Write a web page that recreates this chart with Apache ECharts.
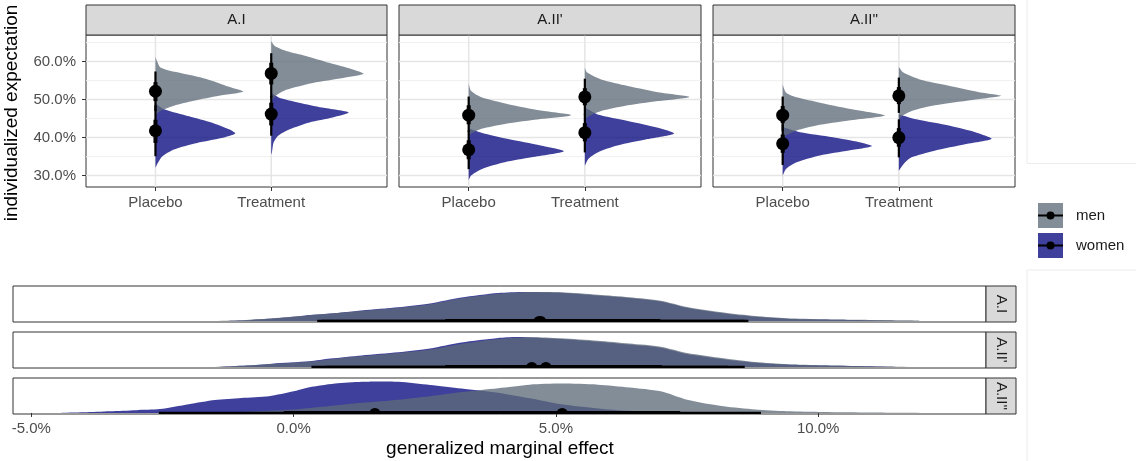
<!DOCTYPE html>
<html>
<head>
<meta charset="utf-8">
<script src="https://cdn.jsdelivr.net/npm/echarts@6.0.0/dist/echarts.min.js"></script>
<style>
  html, body { margin: 0; padding: 0; background: #fff; }
  #chart { width: 1136px; height: 461px; }
</style>
</head>
<body>
<div id="chart"></div>
<script>
const panels = ["A.I", "A.II'", "A.II''"]
const conditions = ['Placebo', 'Treatment']
const groups = ['men', 'women']
const yTicks = [30, 40, 50, 60]
const yMinor = [35, 45, 55, 65]
const effectTicks = [-5, 0, 5, 10]

// half-violin outlines of the top row: [expectation %, width in category units]
const aiPlaceboMen = [[61.3, 0], [60.0, 0.015], [58.5, 0.04], [57.8, 0.1], [57.1, 0.2], [55.4, 0.44], [53.6, 0.61], [52.1, 0.76], [51.0, 0.55], [49.7, 0.33], [48.4, 0.16], [47.0, 0.04], [46.1, 0.01], [45.3, 0]]
const aiPlaceboWomen = [[49.6, 0], [48.5, 0.02], [47.4, 0.08], [45.6, 0.29], [43.9, 0.49], [42.1, 0.64], [41.1, 0.69], [39.9, 0.57], [38.6, 0.36], [36.9, 0.16], [35.1, 0.06], [33.3, 0.02], [32.0, 0]]
const aiTreatmentMen = [[65.4, 0], [64.1, 0.03], [62.8, 0.13], [61.5, 0.3], [59.7, 0.5], [58.0, 0.7], [56.8, 0.8], [55.7, 0.62], [54.4, 0.36], [52.6, 0.13], [51.3, 0.05], [50.0, 0.01], [49.1, 0]]
const aiTreatmentWomen = [[51.8, 0], [50.5, 0.07], [49.2, 0.24], [47.9, 0.44], [46.6, 0.67], [45.3, 0.53], [44.0, 0.33], [42.2, 0.16], [40.5, 0.06], [38.7, 0.02], [36.1, 0.006], [35.6, 0]]
const a2pPlaceboMen = [[54.3, 0], [52.3, 0.02], [50.6, 0.11], [48.8, 0.34], [47.1, 0.62], [45.9, 0.88], [44.9, 0.62], [43.6, 0.31], [42.3, 0.11], [41.0, 0.02], [40.1, 0]]
const a2pPlaceboWomen = [[42.3, 0], [41.0, 0.14], [39.6, 0.34], [37.9, 0.62], [36.4, 0.82], [34.8, 0.54], [33.5, 0.31], [31.7, 0.11], [30.0, 0.02], [28.7, 0]]
const a2pTreatmentMen = [[58.4, 0], [57.1, 0.02], [55.3, 0.14], [53.6, 0.37], [51.8, 0.66], [50.7, 0.9], [49.6, 0.63], [48.3, 0.34], [47.0, 0.14], [45.7, 0.04], [44.8, 0]]
const a2pTreatmentWomen = [[47.9, 0], [46.1, 0.11], [44.4, 0.37], [42.6, 0.63], [41.1, 0.77], [39.6, 0.54], [37.9, 0.28], [36.1, 0.11], [34.4, 0.03], [32.6, 0]]
const a2ppPlaceboMen = [[54.0, 0], [51.8, 0.03], [50.6, 0.12], [48.8, 0.38], [47.1, 0.66], [45.8, 0.88], [44.5, 0.57], [43.2, 0.29], [41.9, 0.12], [40.6, 0.03], [39.7, 0]]
const a2ppPlaceboWomen = [[42.7, 0], [41.4, 0.15], [40.1, 0.43], [38.8, 0.66], [37.8, 0.77], [36.6, 0.57], [35.3, 0.32], [33.5, 0.12], [31.8, 0.03], [30.0, 0]]
const a2ppTreatmentMen = [[58.6, 0], [57.1, 0.04], [55.3, 0.18], [53.6, 0.44], [51.8, 0.72], [51.0, 0.88], [49.9, 0.63], [48.5, 0.31], [47.0, 0.11], [45.7, 0.03], [44.4, 0]]
const a2ppTreatmentWomen = [[46.1, 0], [44.8, 0.15], [43.1, 0.44], [41.3, 0.67], [39.7, 0.8], [38.3, 0.58], [36.5, 0.3], [34.8, 0.11], [33.0, 0.04], [31.3, 0]]

// point + intervals of the top row, per panel: [placebo, treatment]
const medMen = [[52.2, 56.9], [45.9, 50.7], [45.9, 51.0]]
const medWomen = [[41.8, 46.2], [36.8, 41.3], [38.4, 40.0]]
const ci95Men = [[[47.0, 57.4], [50.5, 62.2]], [[41.5, 50.8], [46.0, 55.5]], [[41.8, 50.8], [46.5, 55.8]]]
const ci95Women = [[[35.1, 48.5], [40.5, 51.0]], [[31.7, 41.8], [36.1, 46.2]], [[32.8, 43.5], [34.8, 44.8]]]
const ci66Men = [[[49.6, 54.6], [54.0, 59.7]], [[43.5, 48.5], [48.5, 53.0]], [[43.8, 48.3], [48.8, 53.3]]]
const ci66Women = [[[38.6, 44.7], [43.2, 49.2]], [[34.3, 39.3], [39.0, 43.8]], [[36.0, 40.8], [37.6, 42.5]]]

// densities of the marginal effect: [effect %, relative height]
const aiEffectMen = [[-1.5, 0], [-0.9, 0.03], [-0.4, 0.075], [0.2, 0.15], [0.7, 0.21], [1.3, 0.29], [2.0, 0.38], [2.6, 0.48], [3.2, 0.65], [3.9, 0.78], [4.5, 0.83], [5.1, 0.82], [5.8, 0.75], [6.4, 0.68], [7.0, 0.58], [7.5, 0.40], [8.2, 0.24], [8.8, 0.14], [9.4, 0.08], [10.1, 0.05], [10.7, 0.035], [11.9, 0.015], [11.95, 0]]
const aiEffectWomen = [[-1.3, 0], [-0.8, 0.03], [-0.4, 0.07], [0.2, 0.15], [0.7, 0.21], [1.3, 0.3], [2.0, 0.39], [2.6, 0.5], [3.2, 0.67], [3.9, 0.8], [4.4, 0.83], [5.1, 0.81], [5.8, 0.73], [6.4, 0.66], [7.0, 0.56], [7.5, 0.38], [8.2, 0.22], [8.8, 0.12], [9.4, 0.065], [10.1, 0.04], [10.7, 0.025], [11.5, 0]]
const a2pEffectMen = [[-1.5, 0], [-0.9, 0.04], [-0.4, 0.09], [0.3, 0.15], [0.7, 0.22], [1.3, 0.31], [2.0, 0.40], [2.6, 0.50], [3.2, 0.66], [3.9, 0.80], [4.5, 0.85], [5.1, 0.82], [5.8, 0.75], [6.4, 0.67], [7.0, 0.58], [7.5, 0.40], [8.2, 0.25], [8.8, 0.14], [9.4, 0.08], [10.1, 0.05], [10.7, 0.03], [11.9, 0]]
const a2pEffectWomen = [[-1.4, 0], [-0.9, 0.04], [-0.4, 0.095], [0.3, 0.16], [0.7, 0.24], [1.3, 0.33], [2.0, 0.42], [2.6, 0.53], [3.2, 0.70], [3.9, 0.83], [4.25, 0.86], [5.1, 0.80], [5.8, 0.72], [6.4, 0.64], [7.0, 0.55], [7.5, 0.37], [8.2, 0.22], [8.8, 0.12], [9.4, 0.07], [10.1, 0.04], [10.7, 0.025], [11.5, 0]]
const a2ppEffectMen = [[-1.8, 0], [-1.0, 0.03], [0.0, 0.1], [0.7, 0.2], [1.3, 0.29], [2.0, 0.38], [2.6, 0.48], [3.2, 0.6], [3.9, 0.71], [4.5, 0.81], [5.1, 0.84], [5.8, 0.81], [6.4, 0.73], [7.0, 0.62], [7.5, 0.38], [8.2, 0.19], [8.8, 0.1], [9.4, 0.05], [10.1, 0.03], [11.0, 0.015], [12.35, 0]]
const a2ppEffectWomen = [[-4.5, 0], [-4.0, 0.02], [-3.5, 0.05], [-3.0, 0.08], [-2.55, 0.11], [-2.0, 0.25], [-1.5, 0.37], [-1.0, 0.43], [-0.47, 0.48], [0.0, 0.62], [0.22, 0.71], [0.79, 0.84], [1.3, 0.89], [1.65, 0.9], [2.0, 0.89], [2.6, 0.8], [3.2, 0.7], [3.9, 0.58], [4.5, 0.42], [5.1, 0.25], [5.8, 0.13], [6.4, 0.06], [7.0, 0.025], [7.6, 0]]

// point + intervals of the bottom rows
const medEffectMen = [4.71, 4.81, 5.12]
const medEffectWomen = [4.68, 4.54, 1.55]
const ci95EffectMen = [[0.53, 8.67], [0.6, 8.6], [1.3, 8.91]]
const ci95EffectWomen = [[0.45, 8.6], [0.34, 8.28], [-2.57, 6.0]]
const ci66EffectMen = [[2.95, 6.99], [3.1, 7.02], [3.27, 7.37]]
const ci66EffectWomen = [[2.89, 6.9], [2.89, 6.6], [-0.19, 3.75]]

const violins = [
  [[aiPlaceboMen, aiPlaceboWomen], [aiTreatmentMen, aiTreatmentWomen]],
  [[a2pPlaceboMen, a2pPlaceboWomen], [a2pTreatmentMen, a2pTreatmentWomen]],
  [[a2ppPlaceboMen, a2ppPlaceboWomen], [a2ppTreatmentMen, a2ppTreatmentWomen]]
]
const effects = [[aiEffectMen, aiEffectWomen], [a2pEffectMen, a2pEffectWomen], [a2ppEffectMen, a2ppEffectWomen]]

const FONT = '"Liberation Sans", Arial, sans-serif'
const colors = { men: 'rgba(94,107,121,0.77)', women: 'rgba(5,5,126,0.77)' }
const topGrids = [
  { left: 86, top: 35, width: 301, height: 152 },
  { left: 399, top: 35, width: 302, height: 152 },
  { left: 713, top: 35, width: 302, height: 152 }
]
const rowGrids = [
  { left: 13, top: 286, width: 973, height: 36 },
  { left: 13, top: 332, width: 973, height: 36 },
  { left: 13, top: 378, width: 973, height: 36 }
]

const chart = echarts.init(document.getElementById('chart'), null, { renderer: 'canvas' })

const grids = []
const xAxes = []
const yAxes = []
const series = []

topGrids.forEach((g, p) => {
  grids.push(Object.assign({ show: true, backgroundColor: '#fff', borderColor: '#333', borderWidth: 1, containLabel: false, outerBoundsMode: 'none' }, g))
  xAxes.push({
    gridIndex: p, type: 'value', min: 0.4, max: 3.0,
    axisLine: { show: false }, splitLine: { show: false },
    axisTick: { show: true, length: 4, lineStyle: { color: '#333' }, customValues: [1, 2] },
    axisLabel: { show: true, margin: 8, fontSize: 15, color: '#4d4d4d', fontFamily: FONT, customValues: [1, 2], formatter: v => conditions[Math.round(v) - 1] }
  })
  yAxes.push({
    gridIndex: p, type: 'value', min: 27, max: 67,
    axisLine: { show: false }, splitLine: { show: false },
    axisTick: { show: p === 0, length: 4, lineStyle: { color: '#333' }, customValues: yTicks },
    axisLabel: { show: p === 0, margin: 10, fontSize: 15, color: '#4d4d4d', fontFamily: FONT, customValues: yTicks, formatter: v => v.toFixed(1) + '%' }
  })
})
rowGrids.forEach((g, r) => {
  grids.push(Object.assign({ show: true, backgroundColor: '#fff', borderColor: '#333', borderWidth: 1, containLabel: false, outerBoundsMode: 'none' }, g))
  const last = r === rowGrids.length - 1
  xAxes.push({
    gridIndex: 3 + r, type: 'value', min: -5.35, max: 13.2,
    axisLine: { show: false }, splitLine: { show: false },
    axisTick: { show: last, length: 4, lineStyle: { color: '#333' }, customValues: effectTicks },
    axisLabel: { show: last, margin: 7, fontSize: 15, color: '#4d4d4d', fontFamily: FONT, customValues: effectTicks, formatter: v => v.toFixed(1) + '%' }
  })
  yAxes.push({ gridIndex: 3 + r, type: 'value', min: -0.03, max: 1, show: false })
})

// background grid lines of a top panel
function gridLineSeries (ax) {
  return {
    type: 'custom', xAxisIndex: ax, yAxisIndex: ax, z: 1, silent: true, data: [[1, 50]],
    renderItem: (params, api) => {
      const cs = params.coordSys
      const children = []
      yMinor.forEach(v => {
        const y = api.coord([1, v])[1]
        children.push({ type: 'line', shape: { x1: cs.x, y1: y, x2: cs.x + cs.width, y2: y }, style: { stroke: '#f0f0f0', lineWidth: 1 } })
      })
      yTicks.forEach(v => {
        const y = api.coord([1, v])[1]
        children.push({ type: 'line', shape: { x1: cs.x, y1: y, x2: cs.x + cs.width, y2: y }, style: { stroke: '#e5e5e5', lineWidth: 1.5 } })
      })
      conditions.forEach((c, i) => {
        const x = api.coord([i + 1, 50])[0]
        children.push({ type: 'line', shape: { x1: x, y1: cs.y, x2: x, y2: cs.y + cs.height }, style: { stroke: '#e5e5e5', lineWidth: 1.5 } })
      })
      return { type: 'group', children }
    }
  }
}

function halfViolin (ax, pos, outline, color, z) {
  return {
    type: 'custom', xAxisIndex: ax, yAxisIndex: ax, z, silent: true, data: [[pos, outline[0][0]]],
    renderItem: (params, api) => {
      const pts = outline.map(([v, w]) => api.coord([pos + w, v]))
      return { type: 'polygon', shape: { points: pts, smooth: 0.25, smoothConstraint: [pts[0], pts[0]] }, style: { fill: color } }
    }
  }
}

function slab (ax, outline, color, z) {
  return {
    type: 'custom', xAxisIndex: ax, yAxisIndex: ax, z, silent: true, clip: true, data: [[outline[0][0], 0]],
    renderItem: (params, api) => {
      const pts = [api.coord([outline[0][0], 0])]
      outline.forEach(([x, h]) => pts.push(api.coord([x, h])))
      pts.push(api.coord([outline[outline.length - 1][0], 0]))
      return { type: 'polygon', shape: { points: pts, smooth: 0.25, smoothConstraint: [pts[0], pts[0]] }, style: { fill: color } }
    }
  }
}

// vertical (top) or horizontal (bottom) interval segments
function intervals (ax, items, width, horizontal, z) {
  return {
    type: 'custom', xAxisIndex: ax, yAxisIndex: ax, z, silent: true, clip: true, data: items,
    renderItem: (params, api) => {
      const a = horizontal ? api.coord([api.value(0), 0]) : api.coord([api.value(0), api.value(1)])
      const b = horizontal ? api.coord([api.value(1), 0]) : api.coord([api.value(0), api.value(2)])
      return { type: 'line', shape: { x1: a[0], y1: a[1], x2: b[0], y2: b[1] }, style: { stroke: '#000', lineWidth: width, lineCap: 'butt' } }
    }
  }
}

// medians on the baseline of a row: only the upper half shows above the panel edge
function baselineDots (ax, items, z) {
  return {
    type: 'custom', xAxisIndex: ax, yAxisIndex: ax, z, silent: true, data: items,
    renderItem: (params, api) => {
      const c = api.coord([api.value(0), 0])
      return { type: 'sector', shape: { cx: c[0], cy: c[1] + 1, r0: 0, r: 6, startAngle: Math.PI, endAngle: 2 * Math.PI, clockwise: true }, style: { fill: '#000' } }
    }
  }
}

violins.forEach((panel, p) => {
  series.push(gridLineSeries(p))
  panel.forEach((pair, c) => {
    series.push(halfViolin(p, c + 1, pair[1], colors.women, 2))
    series.push(halfViolin(p, c + 1, pair[0], colors.men, 3))
  })
  const thin = []
  const thick = []
  conditions.forEach((cond, c) => {
    thin.push([c + 1, ci95Men[p][c][0], ci95Men[p][c][1]])
    thin.push([c + 1, ci95Women[p][c][0], ci95Women[p][c][1]])
    thick.push([c + 1, ci66Men[p][c][0], ci66Men[p][c][1]])
    thick.push([c + 1, ci66Women[p][c][0], ci66Women[p][c][1]])
  })
  series.push(intervals(p, thin, 2.2, false, 4))
  series.push(intervals(p, thick, 4, false, 4))
  series.push({
    type: 'scatter', xAxisIndex: p, yAxisIndex: p, z: 5, silent: true, symbolSize: 13,
    itemStyle: { color: '#000', opacity: 1 },
    data: conditions.flatMap((cond, c) => [[c + 1, medMen[p][c]], [c + 1, medWomen[p][c]]])
  })
})

effects.forEach((pair, r) => {
  const ax = 3 + r
  series.push(slab(ax, pair[1], colors.women, 2))
  series.push(slab(ax, pair[0], colors.men, 3))
  series.push(intervals(ax, [ci95EffectMen[r], ci95EffectWomen[r]], 2.2, true, 4))
  series.push(intervals(ax, [ci66EffectMen[r], ci66EffectWomen[r]], 4, true, 4))
  series.push(baselineDots(ax, [[medEffectMen[r], 0], [medEffectWomen[r], 0]], 5))
})

const graphics = []
// strips on top of the panels
topGrids.forEach((g, p) => {
  graphics.push({ type: 'rect', shape: { x: g.left, y: 5, width: g.width, height: 30 }, style: { fill: '#d9d9d9', stroke: '#333', lineWidth: 1 }, z: 10 })
  graphics.push({ type: 'text', x: g.left + g.width / 2, y: 20, z: 11, style: { text: panels[p], textAlign: 'center', textVerticalAlign: 'middle', font: '15px ' + FONT, fill: '#1a1a1a' } })
})
// strips at the right of the rows
rowGrids.forEach((g, r) => {
  graphics.push({ type: 'rect', shape: { x: g.left + g.width, y: g.top, width: 30, height: g.height }, style: { fill: '#d9d9d9', stroke: '#333', lineWidth: 1 }, z: 10 })
  graphics.push({ type: 'text', x: g.left + g.width + 15, y: g.top + g.height / 2, rotation: -Math.PI / 2, z: 11, style: { text: panels[r], textAlign: 'center', textVerticalAlign: 'middle', font: '15px ' + FONT, fill: '#1a1a1a' } })
})
// axis titles
graphics.push({ type: 'text', x: 12, y: 113, rotation: Math.PI / 2, style: { text: 'individualized expectation', textAlign: 'center', textVerticalAlign: 'middle', font: '19px ' + FONT, fill: '#000' } })
graphics.push({ type: 'text', x: 500, y: 449, style: { text: 'generalized marginal effect', textAlign: 'center', textVerticalAlign: 'middle', font: '19px ' + FONT, fill: '#000' } })
// empty legend backgrounds
graphics.push({ type: 'polyline', shape: { points: [[1027, 0], [1027, 163.5], [1140, 163.5]] }, style: { stroke: '#ececec', lineWidth: 1, fill: null } })
graphics.push({ type: 'polyline', shape: { points: [[1140, 270], [1027, 270], [1027, 465]] }, style: { stroke: '#ececec', lineWidth: 1, fill: null } })
// legend
groups.forEach((grp, i) => {
  const y = 203 + i * 30
  graphics.push({ type: 'rect', shape: { x: 1038, y, width: 25, height: 25 }, style: { fill: colors[grp] } })
  graphics.push({ type: 'line', shape: { x1: 1038, y1: y + 12.5, x2: 1063, y2: y + 12.5 }, style: { stroke: '#000', lineWidth: 2 } })
  graphics.push({ type: 'circle', shape: { cx: 1050.5, cy: y + 12.5, r: 4 }, style: { fill: '#000' } })
  graphics.push({ type: 'text', x: 1076, y: y + 12.5, style: { text: grp, textAlign: 'left', textVerticalAlign: 'middle', font: '15px ' + FONT, fill: '#1a1a1a' } })
})

chart.setOption({
  animation: false,
  backgroundColor: '#fff',
  textStyle: { fontFamily: FONT },
  grid: grids,
  xAxis: xAxes,
  yAxis: yAxes,
  series,
  graphic: { elements: graphics }
})
</script>
</body>
</html>
